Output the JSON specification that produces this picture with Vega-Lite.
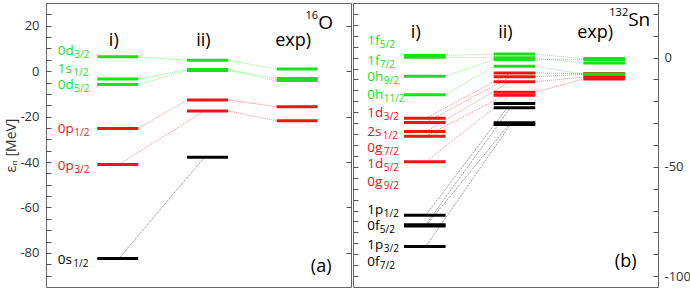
{
  "$schema": "https://vega.github.io/schema/vega-lite/v6.json",
  "padding": {"left": 4, "top": 2, "right": 2, "bottom": 0},
  "background": "white",
  "spacing": 0,
  "config": {
    "font": "Open Sans",
    "view": {"stroke": "#666", "strokeWidth": 1},
    "axis": {"labelFont": "Open Sans", "labelColor": "#333", "labelFontSize": 13, "tickColor": "#555", "titleFont": "Open Sans", "titleFontWeight": "normal", "titleFontSize": 14, "titleColor": "#333", "domain": false, "grid": false, "labelOverlap": false, "labelBound": false}
  },
  "datasets": {
    "levels": [
      {"p": "a", "c": 1, "E": 6.3, "g": "g"}, {"p": "a", "c": 1, "E": -3.5, "g": "g"}, {"p": "a", "c": 1, "E": -5.9, "g": "g"},
      {"p": "a", "c": 1, "E": -25.2, "g": "r"}, {"p": "a", "c": 1, "E": -41.1, "g": "r"}, {"p": "a", "c": 1, "E": -82.5, "g": "k"},
      {"p": "a", "c": 2, "E": 4.8, "g": "g"}, {"p": "a", "c": 2, "E": 0.7, "g": "g"}, {"p": "a", "c": 2, "E": 0.3, "g": "g"},
      {"p": "a", "c": 2, "E": -12.7, "g": "r"}, {"p": "a", "c": 2, "E": -17.5, "g": "r"}, {"p": "a", "c": 2, "E": -37.9, "g": "k"},
      {"p": "a", "c": 3, "E": 0.94, "g": "g"}, {"p": "a", "c": 3, "E": -3.27, "g": "g"}, {"p": "a", "c": 3, "E": -4.14, "g": "g"},
      {"p": "a", "c": 3, "E": -15.66, "g": "r"}, {"p": "a", "c": 3, "E": -21.8, "g": "r"},
      {"p": "b", "c": 1, "E": 1.0, "g": "g"}, {"p": "b", "c": 1, "E": 0.2, "g": "g"}, {"p": "b", "c": 1, "E": -8.5, "g": "g"}, {"p": "b", "c": 1, "E": -17.0, "g": "g"},
      {"p": "b", "c": 1, "E": -27.7, "g": "r"}, {"p": "b", "c": 1, "E": -29.7, "g": "r"}, {"p": "b", "c": 1, "E": -33.8, "g": "r"}, {"p": "b", "c": 1, "E": -36.0, "g": "r"}, {"p": "b", "c": 1, "E": -47.7, "g": "r"},
      {"p": "b", "c": 1, "E": -72.1, "g": "k"}, {"p": "b", "c": 1, "E": -76.5, "g": "k"}, {"p": "b", "c": 1, "E": -77.1, "g": "k"}, {"p": "b", "c": 1, "E": -86.5, "g": "k"},
      {"p": "b", "c": 2, "E": 1.6, "g": "g"}, {"p": "b", "c": 2, "E": -0.1, "g": "g"}, {"p": "b", "c": 2, "E": -0.9, "g": "g"}, {"p": "b", "c": 2, "E": -4.0, "g": "g"},
      {"p": "b", "c": 2, "E": -7.0, "g": "r"}, {"p": "b", "c": 2, "E": -8.8, "g": "r"}, {"p": "b", "c": 2, "E": -11.0, "g": "r"}, {"p": "b", "c": 2, "E": -15.9, "g": "r"}, {"p": "b", "c": 2, "E": -17.2, "g": "r"},
      {"p": "b", "c": 2, "E": -21.0, "g": "k"}, {"p": "b", "c": 2, "E": -22.9, "g": "k"}, {"p": "b", "c": 2, "E": -29.8, "g": "k"}, {"p": "b", "c": 2, "E": -30.6, "g": "k"},
      {"p": "b", "c": 3, "E": -7.31, "g": "r"}, {"p": "b", "c": 3, "E": -7.64, "g": "r"}, {"p": "b", "c": 3, "E": -8.96, "g": "r"}, {"p": "b", "c": 3, "E": -9.74, "g": "r"},
      {"p": "b", "c": 3, "E": -0.45, "g": "g"}, {"p": "b", "c": 3, "E": -0.89, "g": "g"}, {"p": "b", "c": 3, "E": -2.45, "g": "g"}, {"p": "b", "c": 3, "E": -7.55, "g": "g"}
    ],
    "links": [
      {"p": "a", "c1": 1, "E1": 6.3, "c2": 2, "E2": 4.8, "g": "g", "t": "e"},
      {"p": "a", "c1": 1, "E1": -3.5, "c2": 2, "E2": 0.7, "g": "g", "t": "e"},
      {"p": "a", "c1": 1, "E1": -5.9, "c2": 2, "E2": 0.3, "g": "g", "t": "e"},
      {"p": "a", "c1": 2, "E1": 4.8, "c2": 3, "E2": 0.94, "g": "g", "t": "e"},
      {"p": "a", "c1": 2, "E1": 0.7, "c2": 3, "E2": -3.27, "g": "g", "t": "e"},
      {"p": "a", "c1": 2, "E1": 0.3, "c2": 3, "E2": -4.14, "g": "g", "t": "e"},
      {"p": "a", "c1": 1, "E1": -25.2, "c2": 2, "E2": -12.7, "g": "r", "t": "e"},
      {"p": "a", "c1": 1, "E1": -41.1, "c2": 2, "E2": -17.5, "g": "r", "t": "m"},
      {"p": "a", "c1": 2, "E1": -12.7, "c2": 3, "E2": -15.66, "g": "r", "t": "e"},
      {"p": "a", "c1": 2, "E1": -17.5, "c2": 3, "E2": -21.8, "g": "r", "t": "e"},
      {"p": "a", "c1": 1, "E1": -82.5, "c2": 2, "E2": -37.9, "g": "k", "t": "m"},
      {"p": "b", "c1": 1, "E1": 1.0, "c2": 2, "E2": 1.6, "g": "g", "t": "e"},
      {"p": "b", "c1": 1, "E1": 0.2, "c2": 2, "E2": -0.1, "g": "g", "t": "e"},
      {"p": "b", "c1": 1, "E1": -8.5, "c2": 2, "E2": -0.9, "g": "g", "t": "e"},
      {"p": "b", "c1": 1, "E1": -17.0, "c2": 2, "E2": -4.0, "g": "g", "t": "e"},
      {"p": "b", "c1": 2, "E1": 1.6, "c2": 3, "E2": -0.45, "g": "g", "t": "e"},
      {"p": "b", "c1": 2, "E1": -0.1, "c2": 3, "E2": -2.45, "g": "g", "t": "e"},
      {"p": "b", "c1": 2, "E1": -0.9, "c2": 3, "E2": -0.89, "g": "g", "t": "e"},
      {"p": "b", "c1": 2, "E1": -4.0, "c2": 3, "E2": -7.55, "g": "g", "t": "e"},
      {"p": "b", "c1": 1, "E1": -27.7, "c2": 2, "E2": -7.0, "g": "r", "t": "m"},
      {"p": "b", "c1": 1, "E1": -29.7, "c2": 2, "E2": -8.8, "g": "r", "t": "m"},
      {"p": "b", "c1": 1, "E1": -33.8, "c2": 2, "E2": -11.0, "g": "r", "t": "m"},
      {"p": "b", "c1": 1, "E1": -36.0, "c2": 2, "E2": -15.9, "g": "r", "t": "m"},
      {"p": "b", "c1": 1, "E1": -47.7, "c2": 2, "E2": -17.2, "g": "r", "t": "m"},
      {"p": "b", "c1": 2, "E1": -7.0, "c2": 3, "E2": -7.31, "g": "r", "t": "e"},
      {"p": "b", "c1": 2, "E1": -8.8, "c2": 3, "E2": -7.64, "g": "r", "t": "e"},
      {"p": "b", "c1": 2, "E1": -11.0, "c2": 3, "E2": -8.96, "g": "r", "t": "e"},
      {"p": "b", "c1": 2, "E1": -15.9, "c2": 3, "E2": -9.74, "g": "r", "t": "e"},
      {"p": "b", "c1": 1, "E1": -72.1, "c2": 2, "E2": -21.0, "g": "k", "t": "m"},
      {"p": "b", "c1": 1, "E1": -76.5, "c2": 2, "E2": -22.9, "g": "k", "t": "m"},
      {"p": "b", "c1": 1, "E1": -77.1, "c2": 2, "E2": -29.8, "g": "k", "t": "m"},
      {"p": "b", "c1": 1, "E1": -86.5, "c2": 2, "E2": -30.6, "g": "k", "t": "m"}
    ],
    "labels": [
      {"p": "a", "c": 1, "m": "0d", "s": "3/2", "E": 9.2, "g": "g"},
      {"p": "a", "c": 1, "m": "1s", "s": "1/2", "E": 1.6, "g": "g"},
      {"p": "a", "c": 1, "m": "0d", "s": "5/2", "E": -5.7, "g": "g"},
      {"p": "a", "c": 1, "m": "0p", "s": "1/2", "E": -25.2, "g": "r"},
      {"p": "a", "c": 1, "m": "0p", "s": "3/2", "E": -41.5, "g": "r"},
      {"p": "a", "c": 1, "m": "0s", "s": "1/2", "E": -82.5, "g": "k"},
      {"p": "b", "c": 1, "m": "1f", "s": "5/2", "E": 7.9, "g": "g"},
      {"p": "b", "c": 1, "m": "1f", "s": "7/2", "E": -0.9, "g": "g"},
      {"p": "b", "c": 1, "m": "0h", "s": "9/2", "E": -8.5, "g": "g"},
      {"p": "b", "c": 1, "m": "0h", "s": "11/2", "E": -16.8, "g": "g"},
      {"p": "b", "c": 1, "m": "1d", "s": "3/2", "E": -25.0, "g": "r"},
      {"p": "b", "c": 1, "m": "2s", "s": "1/2", "E": -33.5, "g": "r"},
      {"p": "b", "c": 1, "m": "0g", "s": "7/2", "E": -40.8, "g": "r"},
      {"p": "b", "c": 1, "m": "1d", "s": "5/2", "E": -48.2, "g": "r"},
      {"p": "b", "c": 1, "m": "0g", "s": "9/2", "E": -56.5, "g": "r"},
      {"p": "b", "c": 1, "m": "1p", "s": "1/2", "E": -69.4, "g": "k"},
      {"p": "b", "c": 1, "m": "0f", "s": "5/2", "E": -76.7, "g": "k"},
      {"p": "b", "c": 1, "m": "1p", "s": "3/2", "E": -85.3, "g": "k"},
      {"p": "b", "c": 1, "m": "0f", "s": "7/2", "E": -92.9, "g": "k"}
    ],
    "heads": [
      {"p": "a", "c": 1, "txt": "i)", "E": 13.3},
      {"p": "a", "c": 2, "txt": "ii)", "E": 13.3},
      {"p": "a", "c": 3, "txt": "exp)", "E": 13.3},
      {"p": "b", "c": 1, "txt": "i)", "E": 11.2},
      {"p": "b", "c": 2, "txt": "ii)", "E": 11.2},
      {"p": "b", "c": 3, "txt": "exp)", "E": 11.2}
    ],
    "notes": [
      {"p": "a", "c": 3, "tag": "(a)", "tagE": -86.1, "sym": "O", "mass": "16", "symE": 21.3},
      {"p": "b", "c": 3, "tag": "(b)", "tagE": -93.5, "sym": "Sn", "mass": "132", "symE": 17.0}
    ]
  },
  "hconcat": [
    {
      "width": 305,
      "height": 284,
      "resolve": {"axis": {"y": "independent"}},
      "layer": [
        {
          "data": {"name": "links"},
          "transform": [{"filter": "datum.p == 'a' && datum.t == 'e'"}],
          "mark": {"type": "rule", "strokeWidth": 1, "strokeDash": [1, 1], "opacity": 0.5, "xOffset": 20.5, "x2Offset": -20.5},
          "encoding": {
            "x": {"field": "c1", "type": "quantitative", "scale": {"domain": [0.2, 3.6], "nice": false, "zero": false}, "axis": null},
            "x2": {"field": "c2"},
            "y": {"field": "E1", "type": "quantitative", "scale": {"domain": [-95, 30], "nice": false, "zero": false},
                  "axis": {"orient": "right", "values": [-80, -60, -40, -20, 0, 20], "labels": false, "tickSize": -5, "title": null}},
            "y2": {"field": "E2"},
            "color": {"field": "g", "type": "nominal", "scale": {"domain": ["g", "r", "k"], "range": ["#19e019", "#f01414", "#000000"]}, "legend": null}
          }
        },
        {
          "data": {"name": "links"},
          "transform": [{"filter": "datum.p == 'a' && datum.t == 'm'"}],
          "mark": {"type": "rule", "strokeWidth": 1, "strokeDash": [1, 1], "opacity": 0.5, "xOffset": 1, "x2Offset": -3},
          "encoding": {
            "x": {"field": "c1", "type": "quantitative", "axis": null},
            "x2": {"field": "c2"},
            "y": {"field": "E1", "type": "quantitative", "axis": null},
            "y2": {"field": "E2"},
            "color": {"field": "g", "type": "nominal", "legend": null}
          }
        },
        {
          "data": {"name": "levels"},
          "transform": [{"filter": "datum.p == 'a'"}],
          "mark": {"type": "rule", "strokeWidth": 3, "strokeCap": "butt", "xOffset": -20.5, "x2Offset": 20.5},
          "encoding": {
            "x": {"field": "c", "type": "quantitative", "axis": null},
            "x2": {"field": "c"},
            "y": {"field": "E", "type": "quantitative",
                  "axis": {"orient": "left", "values": [-90, -85, -80, -75, -70, -65, -60, -55, -50, -45, -40, -35, -30, -25, -20, -15, -10, -5, 0, 5, 10, 15, 20, 25],
                           "labelExpr": "datum.value % 20 === 0 ? '' + datum.value : ''", "tickSize": -5, "labelPadding": 12, "title": "εₙ [MeV]", "titlePadding": 1}},
            "color": {"field": "g", "type": "nominal", "legend": null}
          }
        },
        {
          "data": {"name": "labels"},
          "transform": [{"filter": "datum.p == 'a'"}],
          "mark": {"type": "text", "align": "left", "baseline": "alphabetic", "dx": -60, "dy": 5, "fontSize": 13.5},
          "encoding": {
            "x": {"field": "c", "type": "quantitative", "axis": null},
            "y": {"field": "E", "type": "quantitative", "axis": null},
            "text": {"field": "m"},
            "color": {"field": "g", "type": "nominal", "legend": null}
          }
        },
        {
          "data": {"name": "labels"},
          "transform": [{"filter": "datum.p == 'a'"}, {"filter": "test(regexp('[dphg]$'), datum.m)"}],
          "mark": {"type": "text", "align": "left", "baseline": "alphabetic", "dx": -43.5, "dy": 8, "fontSize": 10},
          "encoding": {
            "x": {"field": "c", "type": "quantitative", "axis": null},
            "y": {"field": "E", "type": "quantitative", "axis": null},
            "text": {"field": "s"},
            "color": {"field": "g", "type": "nominal", "legend": null}
          }
        },
        {
          "data": {"name": "labels"},
          "transform": [{"filter": "datum.p == 'a'"}, {"filter": "test(regexp('s$'), datum.m)"}],
          "mark": {"type": "text", "align": "left", "baseline": "alphabetic", "dx": -44.5, "dy": 8, "fontSize": 10},
          "encoding": {
            "x": {"field": "c", "type": "quantitative", "axis": null},
            "y": {"field": "E", "type": "quantitative", "axis": null},
            "text": {"field": "s"},
            "color": {"field": "g", "type": "nominal", "legend": null}
          }
        },
        {
          "data": {"name": "heads"},
          "transform": [{"filter": "datum.p == 'a'"}],
          "mark": {"type": "text", "align": "center", "baseline": "middle", "dx": -4, "fontSize": 18, "color": "#000"},
          "encoding": {
            "x": {"field": "c", "type": "quantitative", "axis": null},
            "y": {"field": "E", "type": "quantitative", "axis": null},
            "text": {"field": "txt"}
          }
        },
        {
          "data": {"name": "notes"},
          "transform": [{"filter": "datum.p == 'a'"}],
          "mark": {"type": "text", "align": "center", "baseline": "middle", "dx": 24, "fontSize": 18, "color": "#000"},
          "encoding": {
            "x": {"field": "c", "type": "quantitative", "axis": null},
            "y": {"field": "tagE", "type": "quantitative", "axis": null},
            "text": {"field": "tag"}
          }
        },
        {
          "data": {"name": "notes"},
          "transform": [{"filter": "datum.p == 'a'"}],
          "mark": {"type": "text", "align": "left", "baseline": "middle", "dx": 21, "fontSize": 19, "color": "#000"},
          "encoding": {
            "x": {"field": "c", "type": "quantitative", "axis": null},
            "y": {"field": "symE", "type": "quantitative", "axis": null},
            "text": {"field": "sym"}
          }
        },
        {
          "data": {"name": "notes"},
          "transform": [{"filter": "datum.p == 'a'"}],
          "mark": {"type": "text", "align": "right", "baseline": "middle", "dx": 21, "dy": -7, "fontSize": 11, "color": "#000"},
          "encoding": {
            "x": {"field": "c", "type": "quantitative", "axis": null},
            "y": {"field": "symE", "type": "quantitative", "axis": null},
            "text": {"field": "mass"}
          }
        }
      ]
    },
    {
      "width": 305,
      "height": 284,
      "resolve": {"axis": {"y": "independent"}},
      "layer": [
        {
          "data": {"name": "links"},
          "transform": [{"filter": "datum.p == 'b' && datum.t == 'e'"}],
          "mark": {"type": "rule", "strokeWidth": 1, "strokeDash": [1, 1], "opacity": 0.5, "xOffset": 20.5, "x2Offset": -20.5},
          "encoding": {
            "x": {"field": "c1", "type": "quantitative", "scale": {"domain": [0.2, 3.6], "nice": false, "zero": false}, "axis": null},
            "x2": {"field": "c2"},
            "y": {"field": "E1", "type": "quantitative", "scale": {"domain": [-105, 25], "nice": false, "zero": false},
                  "axis": {"orient": "left", "values": [-100, -95, -90, -85, -80, -75, -70, -65, -60, -55, -50, -45, -40, -35, -30, -25, -20, -15, -10, -5, 0, 5, 10, 15, 20], "labels": false, "tickSize": -5, "title": null}},
            "y2": {"field": "E2"},
            "color": {"field": "g", "type": "nominal", "scale": {"domain": ["g", "r", "k"], "range": ["#19e019", "#f01414", "#000000"]}, "legend": null}
          }
        },
        {
          "data": {"name": "links"},
          "transform": [{"filter": "datum.p == 'b' && datum.t == 'm'"}],
          "mark": {"type": "rule", "strokeWidth": 1, "strokeDash": [1, 1], "opacity": 0.5, "xOffset": 1, "x2Offset": -4},
          "encoding": {
            "x": {"field": "c1", "type": "quantitative", "axis": null},
            "x2": {"field": "c2"},
            "y": {"field": "E1", "type": "quantitative", "axis": null},
            "y2": {"field": "E2"},
            "color": {"field": "g", "type": "nominal", "legend": null}
          }
        },
        {
          "data": {"name": "levels"},
          "transform": [{"filter": "datum.p == 'b'"}],
          "mark": {"type": "rule", "strokeWidth": 3, "strokeCap": "butt", "xOffset": -20.8, "x2Offset": 20.8},
          "encoding": {
            "x": {"field": "c", "type": "quantitative", "axis": null},
            "x2": {"field": "c"},
            "y": {"field": "E", "type": "quantitative",
                  "axis": {"orient": "right", "values": [-100, -90, -80, -70, -60, -50, -40, -30, -20, -10, 0, 10, 20],
                           "labelExpr": "datum.value % 50 === 0 ? '' + datum.value : ''", "tickSize": -5, "labelPadding": 11, "title": null}},
            "color": {"field": "g", "type": "nominal", "legend": null}
          }
        },
        {
          "data": {"name": "labels"},
          "transform": [{"filter": "datum.p == 'b'"}],
          "mark": {"type": "text", "align": "left", "baseline": "alphabetic", "dx": -57.5, "dy": 5, "fontSize": 13.5},
          "encoding": {
            "x": {"field": "c", "type": "quantitative", "axis": null},
            "y": {"field": "E", "type": "quantitative", "axis": null},
            "text": {"field": "m"},
            "color": {"field": "g", "type": "nominal", "legend": null}
          }
        },
        {
          "data": {"name": "labels"},
          "transform": [{"filter": "datum.p == 'b'"}, {"filter": "test(regexp('[dphg]$'), datum.m)"}],
          "mark": {"type": "text", "align": "left", "baseline": "alphabetic", "dx": -41, "dy": 8, "fontSize": 10},
          "encoding": {
            "x": {"field": "c", "type": "quantitative", "axis": null},
            "y": {"field": "E", "type": "quantitative", "axis": null},
            "text": {"field": "s"},
            "color": {"field": "g", "type": "nominal", "legend": null}
          }
        },
        {
          "data": {"name": "labels"},
          "transform": [{"filter": "datum.p == 'b'"}, {"filter": "test(regexp('s$'), datum.m)"}],
          "mark": {"type": "text", "align": "left", "baseline": "alphabetic", "dx": -42, "dy": 8, "fontSize": 10},
          "encoding": {
            "x": {"field": "c", "type": "quantitative", "axis": null},
            "y": {"field": "E", "type": "quantitative", "axis": null},
            "text": {"field": "s"},
            "color": {"field": "g", "type": "nominal", "legend": null}
          }
        },
        {
          "data": {"name": "labels"},
          "transform": [{"filter": "datum.p == 'b'"}, {"filter": "test(regexp('f$'), datum.m)"}],
          "mark": {"type": "text", "align": "left", "baseline": "alphabetic", "dx": -45, "dy": 8, "fontSize": 10},
          "encoding": {
            "x": {"field": "c", "type": "quantitative", "axis": null},
            "y": {"field": "E", "type": "quantitative", "axis": null},
            "text": {"field": "s"},
            "color": {"field": "g", "type": "nominal", "legend": null}
          }
        },
        {
          "data": {"name": "heads"},
          "transform": [{"filter": "datum.p == 'b'"}],
          "mark": {"type": "text", "align": "center", "baseline": "middle", "dx": -9, "fontSize": 18, "color": "#000"},
          "encoding": {
            "x": {"field": "c", "type": "quantitative", "axis": null},
            "y": {"field": "E", "type": "quantitative", "axis": null},
            "text": {"field": "txt"}
          }
        },
        {
          "data": {"name": "notes"},
          "transform": [{"filter": "datum.p == 'b'"}],
          "mark": {"type": "text", "align": "center", "baseline": "middle", "dx": 21.5, "fontSize": 18, "color": "#000"},
          "encoding": {
            "x": {"field": "c", "type": "quantitative", "axis": null},
            "y": {"field": "tagE", "type": "quantitative", "axis": null},
            "text": {"field": "tag"}
          }
        },
        {
          "data": {"name": "notes"},
          "transform": [{"filter": "datum.p == 'b'"}],
          "mark": {"type": "text", "align": "left", "baseline": "middle", "dx": 24, "fontSize": 19, "color": "#000"},
          "encoding": {
            "x": {"field": "c", "type": "quantitative", "axis": null},
            "y": {"field": "symE", "type": "quantitative", "axis": null},
            "text": {"field": "sym"}
          }
        },
        {
          "data": {"name": "notes"},
          "transform": [{"filter": "datum.p == 'b'"}],
          "mark": {"type": "text", "align": "right", "baseline": "middle", "dx": 24, "dy": -7, "fontSize": 11, "color": "#000"},
          "encoding": {
            "x": {"field": "c", "type": "quantitative", "axis": null},
            "y": {"field": "symE", "type": "quantitative", "axis": null},
            "text": {"field": "mass"}
          }
        }
      ]
    }
  ]
}
